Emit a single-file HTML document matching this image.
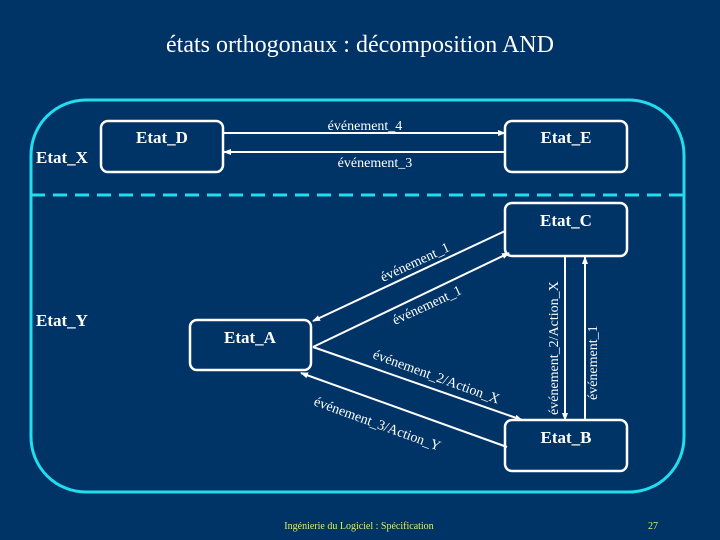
<!DOCTYPE html>
<html><head><meta charset="utf-8"><style>
body{margin:0;background:#003366;width:720px;height:540px;overflow:hidden}
svg{display:block}
</style></head><body>
<svg width="720" height="540" xmlns="http://www.w3.org/2000/svg" font-family="Liberation Serif, serif">
<defs><marker id="a" markerWidth="8" markerHeight="8" refX="7" refY="4" orient="auto" markerUnits="userSpaceOnUse"><path d="M0,1 L8,4 L0,7 z" fill="#fff"/></marker></defs>
<rect width="720" height="540" fill="#003366"/>
<text x="360" y="52" fill="#fff" font-size="24" text-anchor="middle">états orthogonaux : décomposition AND</text>
<rect x="31" y="100" width="653" height="392" rx="55" fill="none" stroke="#22ddee" stroke-width="3"/>
<line x1="31" y1="195" x2="684" y2="195" stroke="#22ddee" stroke-width="3" stroke-dasharray="14,8"/>
<g fill="none" stroke="#fff" stroke-width="2.5">
<rect x="101" y="121" width="122" height="51" rx="7"/>
<rect x="505" y="121" width="122" height="51" rx="7"/>
<rect x="505" y="203" width="122" height="53" rx="7"/>
<rect x="190" y="320" width="121" height="50" rx="7"/>
<rect x="505" y="420" width="122" height="51" rx="7"/>
</g>
<g stroke="#fff" stroke-width="2" marker-end="url(#a)">
<line x1="223" y1="133" x2="505" y2="133"/>
<line x1="505" y1="152" x2="224" y2="152"/>
<line x1="505" y1="231" x2="313" y2="321"/>
<line x1="313" y1="347" x2="509" y2="253"/>
<line x1="313" y1="347" x2="522" y2="420"/>
<line x1="507" y1="447" x2="301" y2="373"/>
<line x1="565" y1="256" x2="565" y2="420"/>
<line x1="585" y1="420" x2="585" y2="257"/>
</g>
<g fill="#fff" font-weight="bold" font-size="17" text-anchor="middle">
<text x="162" y="143">Etat_D</text>
<text x="566" y="143">Etat_E</text>
<text x="566" y="226">Etat_C</text>
<text x="250" y="343">Etat_A</text>
<text x="566" y="443">Etat_B</text>
<text x="62" y="163">Etat_X</text>
<text x="62" y="326">Etat_Y</text>
</g>
<g fill="#fff" font-size="14">
<text x="365" y="130" text-anchor="middle">événement_4</text>
<text x="375" y="167" text-anchor="middle">événement_3</text>
<text transform="translate(383,282) rotate(-25)">événement_1</text>
<text transform="translate(395,325) rotate(-25)">événement_1</text>
<text transform="translate(372,358) rotate(20)">événement_2/Action_X</text>
<text transform="translate(313,405) rotate(20)">événement_3/Action_Y</text>
<text transform="translate(558,415) rotate(-90)">événement_2/Action_X</text>
<text transform="translate(597,400) rotate(-90)">événement_1</text>
</g>
<text x="359" y="529" fill="#ddee66" font-size="10" text-anchor="middle">Ingénierie du Logiciel : Spécification</text>
<text x="653" y="529" fill="#ddee66" font-size="10" text-anchor="middle">27</text>
</svg>
</body></html>
